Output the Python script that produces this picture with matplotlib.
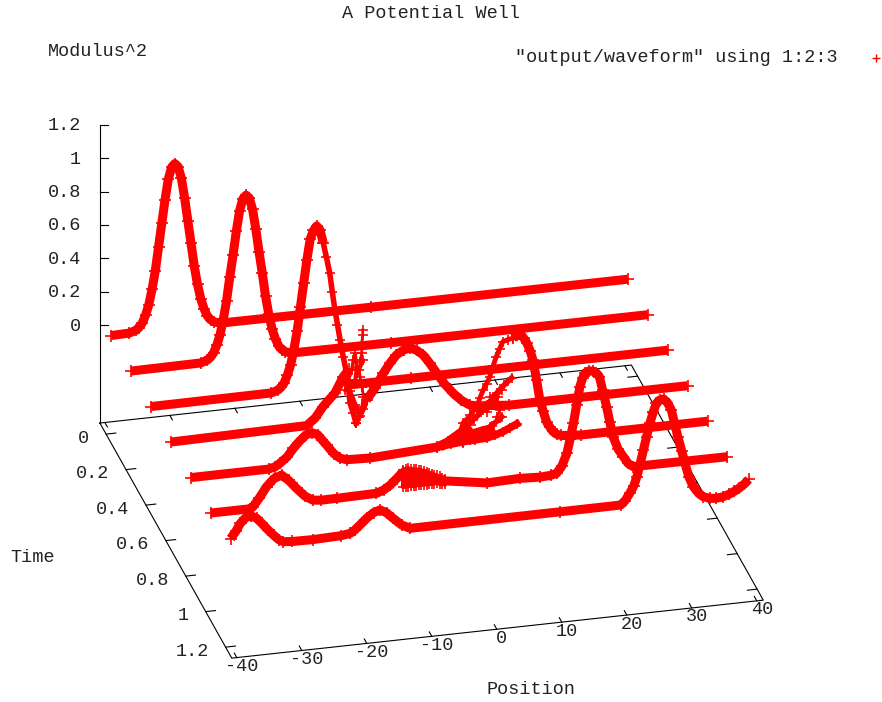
import matplotlib
matplotlib.use('Agg')
import matplotlib.pyplot as plt

RED = '#ff0000'
MONO = 'Liberation Mono'

# time of each slice
t_vals = [0.0, 0.2, 0.4, 0.6, 0.8, 1.0, 1.2]

# solid parts of each slice: position, modulus^2
p_t0 = [-40, -37.2, -36.2, -35.7, -35.2, -34.7, -34.2, -33.7, -33.2, -32.7, -32.2, -31.7, -31.2, -30.7, -30.2, -29.7, -29.2, -28.7, -28.2, -27.7, -27.2, -26.7, -26.2, -25.7, -25.2, -24.7, -24.2, -23.2, 0, 39.5]
z_t0 = [0, .003, .015, .03, .055, .10, .16, .25, .36, .50, .64, .78, .90, .97, .99, .97, .90, .78, .64, .50, .36, .25, .16, .10, .055, .03, .015, .003, 0, 0]

p_t2 = [-40, -29.3, -28.3, -27.8, -27.3, -26.8, -26.3, -25.8, -25.3, -24.8, -24.3, -23.8, -23.3, -22.8, -22.3, -21.8, -21.3, -20.8, -20.3, -19.8, -19.3, -18.8, -18.3, -17.8, -17.3, -16.8, -16.3, -15.3, 0, 39.5]
z_t2 = [0, .003, .015, .03, .055, .10, .16, .25, .36, .50, .63, .77, .89, .96, .98, .96, .89, .77, .63, .50, .36, .25, .16, .10, .055, .03, .015, .003, 0, 0]

p_t4 = [-40, -21.5, -20.5, -20, -19.5, -19, -18.5, -18, -17.5, -17, -16.5, -16, -15.5, -15, -14.5, -14, -13.5]
z_t4 = [0, .003, .015, .03, .055, .10, .16, .25, .36, .50, .64, .78, .90, .95, .975, .95, .87]
p_t4b = [-9.9, 0, 39.5]
z_t4b = [0, 0, 0]

p_t6 = [-40, -19.1, -17.8, -16.6, -14.75, -13.5, -12.6]
z_t6 = [0, .01, .05, .113, .187, .278, .32]
p_t6b = [-9.9, -8.6, -7.3, -6.3, -5.3, -4.2, -3.2, -2.2, -1.2, -.2, .9, 2.1, 3.4, 4.7, 6, 7.3, 8.6, 12, 39.5]
z_t6b = [.124, .19, .274, .33, .375, .40, .408, .39, .358, .305, .24, .17, .11, .06, .026, .015, .012, 0, 0]

p_t8 = [-40, -28, -27, -26.3, -25.2, -24.2, -23.2, -22.3, -21.4, -20.5, -19.8, -19.1, -18, -17, -16, -12.4, -2.1, -.5, 1.4, 3]
z_t8 = [0, 0, .01, .027, .06, .109, .15, .18, .19, .175, .14, .106, .05, .018, .005, 0, .022, .045, .09, .13]
p_t8b = [9.6, 10.2, 10.65, 11.2, 11.7, 12.2, 12.65, 13.2, 13.7, 14.2, 14.75, 15.2, 15.7, 16.3, 17, 20, 39.5]
z_t8b = [.626, .64, .645, .62, .587, .54, .48, .36, .237, .17, .10, .07, .04, .02, .01, 0, 0]

p_t10 = [-40, -34, -33.5, -32.5, -31.4, -30.3, -29.1, -28, -26.8, -25.5, -24.3, -23, -20.6, -14.5, -13.4, -12.4, -11.4, -10.4]
z_t10 = [0, 0, .01, .06, .122, .165, .182, .145, .092, .04, .011, .005, .006, .01, .025, .05, .085, .122]
p_t10b = [-4, 2.5, 7.6, 10.7, 12.3, 13.2, 14, 14.8, 15.3, 15.8, 16.3, 16.8, 17.2, 17.6, 18.2, 18.8, 19.3, 19.8, 20.3, 20.9, 21.4, 21.9, 22.7, 23.5, 24.2, 25, 39.5]
z_t10b = [.04, 0, .006, 0, .004, .012, .05, .125, .21, .30, .41, .517, .565, .595, .605, .602, .59, .564, .48, .38, .285, .195, .115, .068, .025, .002, 0]

p_t12 = [-40, -39.2, -38.5, -37.7, -36.9, -36, -35.2, -34.3, -33.4, -32.6, -31.9, -30.5, -27.3, -23, -21.6, -20.9, -20.1, -19, -18, -17, -16, -15, -13.7, -12.4, 10.7, 20, 20.7, 21.4, 22, 22.5, 23, 23.5, 24, 24.5, 25, 25.5, 26, 26.6, 27.2, 27.8, 28.3, 28.8, 29.4, 29.9, 30.5, 31.2, 32, 32.7, 33.7, 34.7, 35.7, 36.7, 37.5, 38.2, 39, 39.7]
z_t12 = [.06, .10, .145, .175, .184, .165, .131, .09, .053, .022, .007, .002, 0, .005, .013, .03, .057, .095, .122, .134, .112, .075, .03, .004, .005, .006, .03, .07, .11, .165, .24, .32, .40, .477, .54, .593, .61, .614, .59, .543, .46, .379, .29, .214, .13, .068, .025, .002, -.012, -.016, -.012, 0, .014, .029, .05, .076]

solid = [
    (0.0, p_t0, z_t0), (0.2, p_t2, z_t2), (0.4, p_t4, z_t4), (0.4, p_t4b, z_t4b),
    (0.6, p_t6, z_t6), (0.6, p_t6b, z_t6b), (0.8, p_t8, z_t8), (0.8, p_t8b, z_t8b),
    (1.0, p_t10, z_t10), (1.0, p_t10b, z_t10b), (1.2, p_t12, z_t12),
]

# scattered strands where the solver goes jagged
p_s1 = [-13.5, -13, -12.5, -12.1, -11.7, -11.3, -10.9, -10.4, -9.9, -9.6, -9.37, -8.86, -8.45]
z_s1 = [.87, .78, .685, .57, .46, .37, .276, .17, .07, -.02, -.11, -.173, -.235]
p_s2 = [-8.45, -7.93, -7.57, -7.32, -7.5, -7.83, -7.93, -7.83, -7.57, -7.57, -7.42, -7.42]
z_s2 = [-.235, -.197, -.139, -.08, -.02, .043, .083, .132, .182, .242, .291, .321]
p_s3 = [-10.1, -9.63, -9.1, -8.86, -8.6, -8.34, -8.6, -7.32]
z_s3 = [-.03, .03, .088, .147, .186, .104, .026, .14]
# right arm of the V, on the t=0.6 slice
p_s4 = [-13.5, -12.5, -11.6, -10.9, -10.4, -9.9, -9, -8.2, -7.3]
z_s4 = [.278, .19, .10, .03, .07, .124, .17, .22, .274]

p_f1 = [-2.1, 0, 1.88, 3.7, 5.57, 6.8, 8.03, 9.1, 10.14]
z_f1 = [.022, .03, .037, .04, .044, .055, .071, .09, .108]
p_f2 = [1.88, 3, 4.03, 5, 6.03, 7, 7.83]
z_f2 = [.03, .045, .058, .085, .109, .135, .161]
p_f3 = [.34, 1.6, 2.95, 4, 4.95, 6, 7.1, 8.2, 9.37]
z_f3 = [.066, .105, .145, .18, .214, .26, .307, .35, .388]
p_f4 = [1.4, 1.9, 3, 4, 4.5, 5, 5.5, 6, 6.5, 7, 7.5, 8, 8.8, 9.6]
z_f4 = [.09, .149, .19, .238, .29, .334, .37, .409, .47, .525, .57, .611, .62, .626]
p_f5 = [7.06, 7.57, 6.03, 7.83, 5.5, 6.5, 6.8, 7.3]
z_f5 = [.165, .203, .289, .322, .2, .26, .24, .28]
p_f6 = [-1, 1, 3, 5, 6]
z_f6 = [.03, .06, .075, .09, .095]

strands = [
    (0.4, p_s1, z_s1, 4.0), (0.4, p_s2, z_s2, 2.0), (0.4, p_s3, z_s3, 2.5),
    (0.6, p_s4, z_s4, 3.5), (0.8, p_f1, z_f1, 5.5), (0.8, p_f2, z_f2, 4.0),
    (0.8, p_f3, z_f3, 4.0), (0.8, p_f4, z_f4, 3.5), (0.8, p_f5, z_f5, 2.0),
    (0.8, p_f6, z_f6, 6.5),
]

# dense wedge on the t=1.0 slice
p_w = [-10.4, -10.4, -10, -10, -9.6, -9.6, -9.2, -9.2, -8.8, -8.8, -8.4, -8.4, -8, -8, -7.6, -7.6, -7.2, -7.2, -6.8, -6.8, -6.4, -6.4, -6, -6, -5.6, -5.6, -5.2, -5.2, -4.8, -4.8, -4.4, -4.4, -4, -4]
z_w = [.13, .03, .135, .03, .14, .03, .135, .03, .13, .03, .128, .03, .125, .03, .12, .03, .115, .03, .108, .03, .10, .03, .092, .03, .085, .03, .078, .03, .07, .025, .06, .022, .05, .02]

z_ticks = [0, .2, .4, .6, .8, 1, 1.2]
z_labels = ['0', '0.2', '0.4', '0.6', '0.8', '1', '1.2']
t_ticks = [0, .2, .4, .6, .8, 1, 1.2]
t_labels = ['0', '0.2', '0.4', '0.6', '0.8', '1', '1.2']
p_ticks = [-40, -30, -20, -10, 0, 10, 20, 30, 40]

p_min, p_max = -40.77, 41.0
t_min, t_max = -0.0625, 1.262
z_min, z_top = -0.588, 1.2


# gnuplot view is orthographic so this is just a linear map to pixels
def project(p, t, z):
    return 371.1 + 6.5 * p + 99.6 * t, 307.2 - 0.709 * p + 177.5 * t - 166.7 * z


def proj_list(p_list, t, z_list):
    xy = [project(p, t, z) for p, z in zip(p_list, z_list)]
    return [a[0] for a in xy], [a[1] for a in xy]


fig = plt.figure(figsize=(8.82, 7.02), dpi=100)
ax = fig.add_axes([0, 0, 1, 1])
ax.set_xlim(0, 882)
ax.set_ylim(702, 0)
ax.axis('off')

# floor frame and z axis
corners = [(p_min, t_min), (p_max, t_min), (p_max, t_max), (p_min, t_max), (p_min, t_min)]
fx = [project(c[0], c[1], z_min)[0] for c in corners]
fy = [project(c[0], c[1], z_min)[1] for c in corners]
ax.plot(fx, fy, color='k', lw=0.8)
x0, y0 = project(p_min, t_min, z_min)
x1, y1 = project(p_min, t_min, z_top)
ax.plot([x0, x1], [y0, y1], color='k', lw=0.8)

for z, lab in zip(z_ticks, z_labels):
    xa, ya = project(p_min, t_min, z)
    ax.plot([xa, xa + 8.5], [ya, ya], color='k', lw=0.8)
    ax.text(81, ya + 1, lab, family=MONO, fontsize=13.3, ha='right', va='center', color='#222222')

for t, lab in zip(t_ticks, t_labels):
    xa, ya = project(p_min, t, z_min)
    xb, yb = project(p_min + 1.5, t, z_min)
    ax.plot([xa, xb], [ya, yb], color='k', lw=0.8)
    xa, ya = project(p_max, t, z_min)
    xb, yb = project(p_max - 1.5, t, z_min)
    ax.plot([xa, xb], [ya, yb], color='k', lw=0.8)
    xa, ya = project(p_min, t, z_min)
    ax.text(xa - 17, ya + 4, lab, family=MONO, fontsize=13.3, ha='right', va='center', color='#222222')

for p in p_ticks:
    xa, ya = project(p, t_max, z_min)
    xb, yb = project(p, t_max - 0.025, z_min)
    ax.plot([xa, xb], [ya, yb], color='k', lw=0.8)
    xa2, ya2 = project(p, t_min, z_min)
    xb2, yb2 = project(p, t_min + 0.025, z_min)
    ax.plot([xa2, xb2], [ya2, yb2], color='k', lw=0.8)
    ax.text(xa + 5, ya + 9, str(p), family=MONO, fontsize=13.3, ha='center', va='center', color='#222222')

# waveform slices
for t, ps, zs in solid:
    xs, ys = proj_list(ps, t, zs)
    ax.plot(xs, ys, color=RED, lw=6.5, solid_capstyle='butt', solid_joinstyle='round', marker='+', ms=8, mew=1.2)

for t, ps, zs, w in strands:
    xs, ys = proj_list(ps, t, zs)
    ax.plot(xs, ys, color=RED, lw=w, marker='+', ms=7.5, mew=1.2, solid_joinstyle='round')

xs, ys = proj_list(p_w, 1.0, z_w)
ax.plot(xs, ys, color=RED, lw=3.0, marker='+', ms=7, mew=1.2)

# texts
ax.text(431, 13, 'A Potential Well', family=MONO, fontsize=13.3, ha='center', va='center', color='#222222')
ax.text(48, 51, 'Modulus^2', family=MONO, fontsize=13.3, ha='left', va='center', color='#222222')
ax.text(515, 58, '"output/waveform" using 1:2:3', family=MONO, fontsize=13.3, ha='left', va='center', color='#222222')
ax.plot([876], [58], '+', color=RED, ms=6, mew=1)
ax.text(10, 557, 'Time', family=MONO, fontsize=13.3, ha='left', va='center', color='#222222')
ax.text(486, 690, 'Position', family=MONO, fontsize=13.3, ha='left', va='center', color='#222222')

fig.savefig('out.png', dpi=100)
